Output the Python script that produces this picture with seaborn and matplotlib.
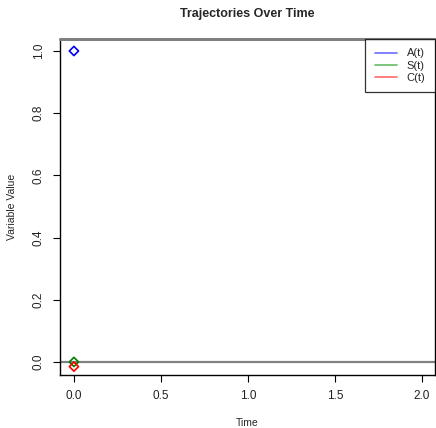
import matplotlib
matplotlib.use("Agg")
import matplotlib.pyplot as plt
from matplotlib.lines import Line2D
import seaborn as sns
import pandas as pd

time = [0.0]
A = [1.0]
S = [0.0]
C = [-0.015]
series_names = ["A(t)", "S(t)", "C(t)"]
series_colors = ["#0000ff", "#008000", "#ff0000"]
legend_colors = ["#6b6bff", "#66bb66", "#ff6b6b"]
x_ticks = [0.0, 0.5, 1.0, 1.5, 2.0]
y_ticks = [0.0, 0.2, 0.4, 0.6, 0.8, 1.0]

sns.set_theme(style="ticks")
plt.rcParams['font.family'] = ['Liberation Sans', 'DejaVu Sans']

fig = plt.figure(figsize=(4.36, 4.28), dpi=100)
ax = fig.add_axes([60/436, 1-375/428, 375/436, 336/428])

df = pd.DataFrame({"Time": time * 3,
                   "Value": A + S + C,
                   "Series": [n for n in series_names for _ in time]})

for name, col in zip(series_names, series_colors):
    sub = df[df["Series"] == name]
    sns.scatterplot(data=sub, x="Time", y="Value", ax=ax, marker="D",
                    s=22, facecolor="none", edgecolor=col, linewidth=1.2,
                    legend=False, zorder=5)

ax.set_xlim(-0.08, 2.075)
ax.set_ylim(-0.042, 1.0386)
ax.axhline(0.0, color="#808080", lw=1.6, zorder=2)
ax.axhline(1.0386, color="#808080", lw=2.2, zorder=3, clip_on=False)

ax.set_xticks(x_ticks)
ax.set_xticklabels([f"{v:.1f}" for v in x_ticks], fontsize=8.5, color="#222222")
ax.set_yticks(y_ticks)
ax.set_yticklabels([f"{v:.1f}" for v in y_ticks], fontsize=8.5, rotation=90,
                   va="center", color="#222222")
ax.tick_params(axis="both", length=5, width=0.8, color="black", pad=6)

for side in ["left", "bottom", "right"]:
    ax.spines[side].set_color("black")
    ax.spines[side].set_linewidth(1.0)
ax.spines["top"].set_visible(False)

ax.set_xlabel("Time", fontsize=7.5, labelpad=11)
ax.set_ylabel("Variable Value", fontsize=7.5, labelpad=11)
ax.set_title("Trajectories Over Time", fontsize=9, fontweight="bold", pad=16)

handles = [Line2D([0], [0], color=c, lw=1.2) for c in legend_colors]
leg = ax.legend(handles, series_names, loc="upper right", fontsize=8,
                frameon=True, fancybox=False, edgecolor="black",
                borderpad=0.85, handlelength=2.0, handletextpad=0.9,
                labelspacing=0.2, borderaxespad=0.0)
leg.get_frame().set_linewidth(0.9)

fig.savefig("out.png", dpi=100)
